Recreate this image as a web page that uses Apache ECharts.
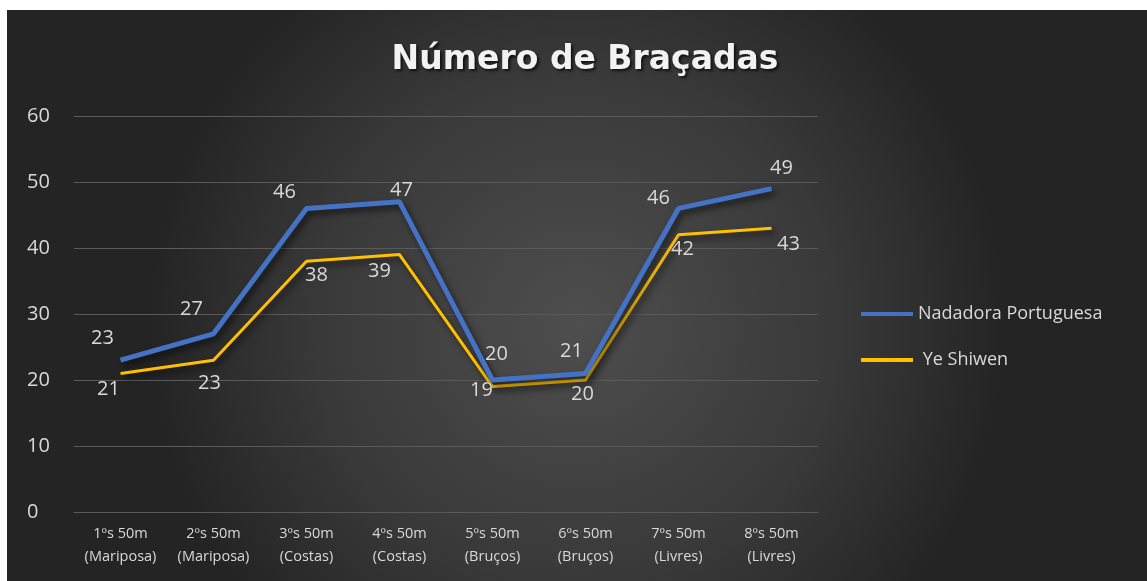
<!DOCTYPE html>
<html>
<head>
<meta charset="utf-8">
<script src="https://cdn.jsdelivr.net/npm/echarts@6/dist/echarts.min.js"></script>
<style>
  html, body { margin: 0; padding: 0; background: #fff; }
  #chart { position: absolute; left: 7px; top: 10px; width: 1140px; height: 571px; }
</style>
</head>
<body>
<div id="chart"></div>
<script>
// categories and values
var categories = [
  "1ºs 50m\n(Mariposa)", "2ºs 50m\n(Mariposa)", "3ºs 50m\n(Costas)", "4ºs 50m\n(Costas)",
  "5ºs 50m\n(Bruços)", "6ºs 50m\n(Bruços)", "7ºs 50m\n(Livres)", "8ºs 50m\n(Livres)"
];
var portuguesa = [23, 27, 46, 47, 20, 21, 46, 49];
var yeShiwen = [21, 23, 38, 39, 19, 20, 42, 43];
var yTicks = [0, 10, 20, 30, 40, 50, 60];

// label nudges (style only)
var blueOffsets = [[-18, -2], [-22, -4], [-22, 4], [2, 9], [4, -6], [-14, -2], [-20, 10], [10, 0]];
var yellowOffsets = [[-12, 0], [-4, 7], [10, -2], [-20, 1], [-11, -12], [-3, -2], [4, -2], [17, 0]];

function withOffsets(values, offsets) {
  return values.map(function (v, i) {
    return { value: v, label: { offset: offsets[i] } };
  });
}

var chart = echarts.init(document.getElementById("chart"));
var labelColor = "#d9d9d9";
var font = "Open Sans";

chart.setOption({
  backgroundColor: {
    type: "radial", x: 0.5, y: 0.55, r: 0.75,
    colorStops: [
      { offset: 0, color: "#4e4e4e" },
      { offset: 0.6, color: "#393939" },
      { offset: 1, color: "#242424" }
    ]
  },
  title: {
    text: "Número de Braçadas",
    left: 573, top: 29, textAlign: "center",
    textStyle: {
      color: "#f2f2f2", fontSize: 33, fontWeight: "bold", fontFamily: "DejaVu Sans",
      textShadowColor: "rgba(0,0,0,0.7)", textShadowBlur: 3, textShadowOffsetX: 2, textShadowOffsetY: 2
    }
  },
  legend: {
    orient: "vertical", left: 849, top: 290, itemGap: 28,
    itemWidth: 52, itemHeight: 4, icon: "rect",
    textStyle: { color: labelColor, fontSize: 18, fontFamily: font },
    data: ["Nadadora Portuguesa", " Ye Shiwen"]
  },
  grid: { left: 67, right: 329, top: 106, bottom: 69 },
  xAxis: {
    type: "category", data: categories, boundaryGap: true,
    axisLine: { lineStyle: { color: "#595959", width: 1 } },
    axisTick: { show: false },
    axisLabel: { color: labelColor, fontSize: 14.5, fontFamily: font, lineHeight: 23, margin: 10, interval: 0 }
  },
  yAxis: {
    type: "value", min: yTicks[0], max: yTicks[yTicks.length - 1], interval: 10,
    axisLine: { show: false }, axisTick: { show: false },
    axisLabel: { color: labelColor, fontSize: 20, fontFamily: font, margin: 47, align: "left" },
    splitLine: { lineStyle: { color: "#5a5a5a", width: 1 } }
  },
  series: [
    {
      name: "Nadadora Portuguesa", type: "line", symbol: "circle", symbolSize: 0.1, showSymbol: true,
      data: withOffsets(portuguesa, blueOffsets),
      lineStyle: {
        color: "#4472c4", width: 5,
        shadowColor: "rgba(0,0,0,0.6)", shadowBlur: 6, shadowOffsetX: 3, shadowOffsetY: 4
      },
      itemStyle: { color: "#4472c4" },
      label: { show: true, position: "top", distance: 10, color: labelColor, fontSize: 20, fontFamily: font },
      z: 3
    },
    {
      name: " Ye Shiwen", type: "line", symbol: "circle", symbolSize: 0.1, showSymbol: true,
      data: withOffsets(yeShiwen, yellowOffsets),
      lineStyle: {
        color: "#ffc000", width: 3,
        shadowColor: "rgba(0,0,0,0.6)", shadowBlur: 6, shadowOffsetX: 3, shadowOffsetY: 4
      },
      itemStyle: { color: "#ffc000" },
      label: { show: true, position: "bottom", distance: 6, color: labelColor, fontSize: 20, fontFamily: font },
      z: 2
    }
  ]
});
</script>
</body>
</html>
